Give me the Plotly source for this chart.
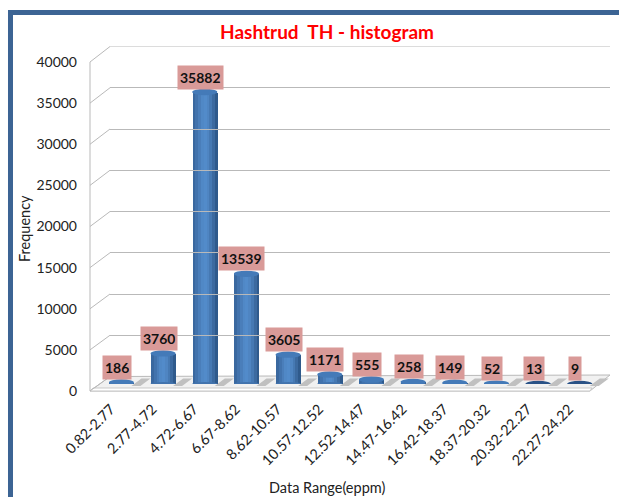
import plotly.graph_objects as go

categories = ["0.82-2.77", "2.77-4.72", "4.72-6.67", "6.67-8.62", "8.62-10.57", "10.57-12.52",
              "12.52-14.47", "14.47-16.42", "16.42-18.37", "18.37-20.32", "20.32-22.27", "22.27-24.22"]
frequency = [186, 3760, 35882, 13539, 3605, 1171, 555, 258, 149, 52, 13, 9]
y_ticks = [0, 5000, 10000, 15000, 20000, 25000, 30000, 35000, 40000]

W, H = 619, 497
FONT = "Lato"
TXT = "#222222"
GRID = "#b9b9b9"
slices = ["#3a689f", "#4273ad", "#4a7eba", "#5088c6", "#528bca", "#4f85c2", "#4679b3", "#3c6aa0", "#2f5a8c"]
BAR_W = 0.6
idx = list(range(len(categories)))

# three depth planes (pixel boxes): front, middle (bars), back
FRONT = dict(x0=90, x1=590, top=62, bot=391)
MID = dict(x0=100.6, x1=600.6, top=58.5, bot=384)
BACK = dict(x0=110, x1=610, top=46.5, bot=376.5)

def xdom(p): return [p["x0"] / W, p["x1"] / W]
def ydom(p): return [1 - p["bot"] / H, 1 - p["top"] / H]
def px(x): return x / W
def py(y): return 1 - y / H

fig = go.Figure()
n = len(slices)
for i, c in enumerate(slices):
    sw = BAR_W / n
    fig.add_trace(go.Bar(x=idx, y=frequency, xaxis="x2", yaxis="y2", width=sw * 1.04,
                         offset=-BAR_W / 2 + i * sw, marker=dict(color=c, line=dict(width=0)),
                         showlegend=False, hoverinfo="skip"))

shapes = []
def poly(pts, fill, line=None, layer="below"):
    d = "M" + " L".join(f"{px(a):.5f},{py(b):.5f}" for a, b in pts) + " Z"
    shapes.append(dict(type="path", path=d, xref="paper", yref="paper", fillcolor=fill,
                       line=dict(color=line or fill, width=1 if line else 0), layer=layer))

# frame
poly([(8, 10), (619, 10), (619, 15), (13, 15), (13, 497), (8, 497)], "#3c6494", layer="above")

# floor
poly([(90, 391), (110, 376.5), (610, 375), (590, 391)], "#f1f1f1", GRID)
poly([(90, 391), (93, 388), (592, 388), (590, 391)], "#ffffff", "#c8c8c8")
# floor shadows between the cylinders
pitch = 500 / len(categories)
for i in idx:
    cx = 100.6 + pitch * (i + 0.5)
    poly([(cx + 10, 386), (cx + 20, 378.5), (cx + 29, 378.5), (cx + 19, 386)], "#c0c0c0")

# wall connectors, left wall and the top back gridline
for t in y_ticks:
    f = FRONT["bot"] - (FRONT["bot"] - FRONT["top"]) * t / 40000
    b = BACK["bot"] - (BACK["bot"] - BACK["top"]) * t / 40000
    shapes.append(dict(type="line", xref="paper", yref="paper", x0=px(90), x1=px(110), y0=py(f), y1=py(b),
                       line=dict(color=GRID, width=1), layer="below"))
shapes.append(dict(type="line", xref="paper", yref="paper", x0=px(90), x1=px(90), y0=py(62), y1=py(391),
                   line=dict(color=GRID, width=1), layer="below"))
shapes.append(dict(type="line", xref="x3", yref="y3", x0=0, x1=1, y0=y_ticks[-1], y1=y_ticks[-1],
                   line=dict(color=GRID, width=1), layer="below"))

# cylinder ends
for i, v in zip(idx, frequency):
    shapes.append(dict(type="circle", xref="x2", yref="y2", xsizemode="pixel", ysizemode="pixel",
                       xanchor=i, yanchor=0, x0=-12.5, x1=12.5, y0=-2, y1=2,
                       fillcolor="#4273ad", line=dict(width=0), layer="above"))
    top = "#2a5286" if v < 50 else "#447ab8"
    shapes.append(dict(type="circle", xref="x2", yref="y2", xsizemode="pixel", ysizemode="pixel",
                       xanchor=i, yanchor=v, x0=-12.5, x1=12.5, y0=-3.2, y1=3.2,
                       fillcolor=top, line=dict(width=0), layer="above"))

annotations = [dict(x=i, y=v, xref="x2", yref="y2", text=f"<b>{v}</b>", showarrow=False, yanchor="bottom",
                    xanchor="center", xshift=-4.5, yshift=2.5, bgcolor="#d99a98", borderpad=2, height=19,
                    valign="middle", font=dict(family=FONT, size=14, color="#111111"))
               for i, v in zip(idx, frequency)]
annotations += [
    dict(text="Data Range(eppm)", xref="paper", yref="paper", x=px(327), y=py(487), showarrow=False,
         xanchor="center", yanchor="middle", font=dict(family=FONT, size=14.5, color=TXT)),
    dict(text="Frequency", xref="paper", yref="paper", x=px(24), y=py(229), showarrow=False, textangle=-90,
         xanchor="center", yanchor="middle", font=dict(family=FONT, size=14.5, color=TXT)),
]

hidden = dict(showgrid=False, zeroline=False, showline=False, ticks="", showticklabels=False)
fig.update_layout(
    width=W, height=H, autosize=False, margin=dict(l=0, r=0, t=0, b=0),
    paper_bgcolor="white", plot_bgcolor="rgba(0,0,0,0)", barmode="overlay", bargap=0,
    font=dict(family=FONT, color=TXT),
    title=dict(text="<b>Hashtrud  TH - histogram</b>", x=327 / W, xanchor="center", y=1 - 32 / H, yanchor="middle",
               font=dict(family=FONT, size=19, color="#ff0000")),
    xaxis=dict(domain=xdom(FRONT), anchor="y", range=[-0.5, 11.5], tickmode="array", tickvals=idx,
               ticktext=categories, tickangle=-45, showgrid=False, zeroline=False, showline=False, ticks="",
               ticklabelstandoff=6, automargin=False, tickfont=dict(family=FONT, size=14.5, color=TXT)),
    yaxis=dict(domain=ydom(FRONT), anchor="x", range=[0, 40000], tickmode="array", tickvals=y_ticks,
               ticktext=[str(t) for t in y_ticks], showgrid=False, zeroline=False, showline=False, ticks="",
               ticklabelstandoff=12, automargin=False, tickfont=dict(family=FONT, size=14, color=TXT)),
    xaxis2=dict(domain=xdom(MID), anchor="y2", range=[-0.5, 11.5], **hidden),
    yaxis2=dict(domain=ydom(MID), anchor="x2", range=[0, 40000], **hidden),
    xaxis3=dict(domain=xdom(BACK), anchor="y3", range=[0, 1], **hidden),
    yaxis3=dict(domain=ydom(BACK), anchor="x3", range=[0, 40000], tickmode="array", tickvals=y_ticks,
                showgrid=True, gridcolor=GRID, gridwidth=1, zeroline=False, showline=False,
                ticks="", showticklabels=False),
    shapes=shapes, annotations=annotations,
)
for xa, ya in (("x3", "y3"), ("x", "y")):
    fig.add_trace(go.Scatter(x=[0], y=[0], xaxis=xa, yaxis=ya, mode="markers", marker=dict(opacity=0),
                             showlegend=False, hoverinfo="skip"))
fig.write_html("out.html", config=dict(displayModeBar=False),
               post_script="document.body.style.margin='0';document.body.style.overflow='hidden';")
